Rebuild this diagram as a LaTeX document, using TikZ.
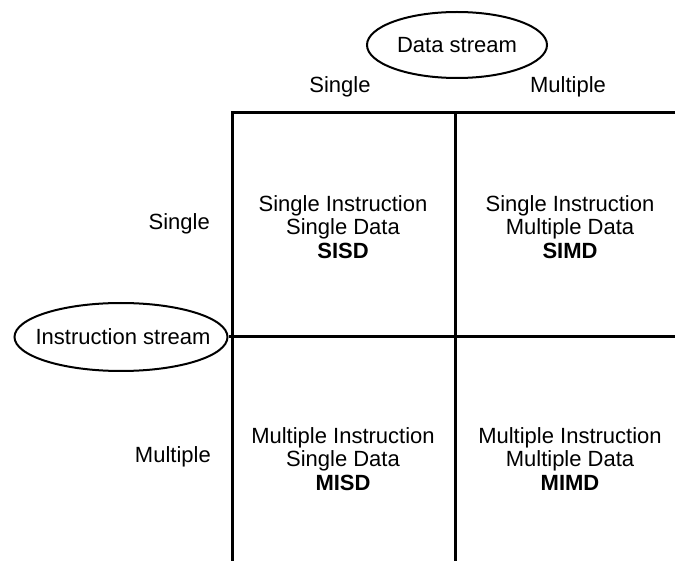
\documentclass[tikz,border=0pt]{standalone}
\usepackage{fontspec}
\setmainfont{Liberation Sans}
\usetikzlibrary{shapes.geometric}
\begin{document}
\begin{tikzpicture}[x=1pt,y=-1pt,
  lbl/.style={font=\fontsize{22}{23.5}\selectfont, inner sep=0pt},
  cell/.style={lbl, align=center},
  stream/.style={draw, ellipse, line width=2pt, inner sep=0pt},
  gridline/.style={line width=3pt}]
\useasboundingbox (0,0) rectangle (675,561);
% grid corner coordinates
\coordinate (lb) at (232,561);
\coordinate (lt) at (232,113);
\coordinate (rt) at (675,113);
\coordinate (mb) at (455,561);
\coordinate (mt) at (455,113);
\coordinate (rm) at (675,337);
% stream ellipses
\node[stream, minimum width=180, minimum height=66] (data) at (457,45) {};
\node[lbl] (datat) at (data.center) {Data stream};
\node[stream, minimum width=213, minimum height=68] (instr) at (121,337) {};
\node[lbl] (instrt) at ([xshift=2pt]instr.center) {Instruction stream};
% axis labels
\node[lbl] (dsingle) at (340,87) {Single};
\node[lbl] (dmult) at (568,87) {Multiple};
\node[lbl, anchor=east] (isingle) at (210,224) {Single};
\node[lbl, anchor=east] (imult) at (211,457) {Multiple};
% grid
\draw[gridline] (lb) -- (lt) -- (rt);
\draw[gridline] (mb) -- (mt);
\draw[gridline] (instr.east) -- (rm);
% cells
\node[cell] (sisd) at (343,227) {Single Instruction\\Single Data\\\textbf{SISD}};
\node[cell] (simd) at (570,227) {Single Instruction\\Multiple Data\\\textbf{SIMD}};
\node[cell] (misd) at (343,459) {Multiple Instruction\\Single Data\\\textbf{MISD}};
\node[cell] (mimd) at (570,459) {Multiple Instruction\\Multiple Data\\\textbf{MIMD}};
\end{tikzpicture}
\end{document}
